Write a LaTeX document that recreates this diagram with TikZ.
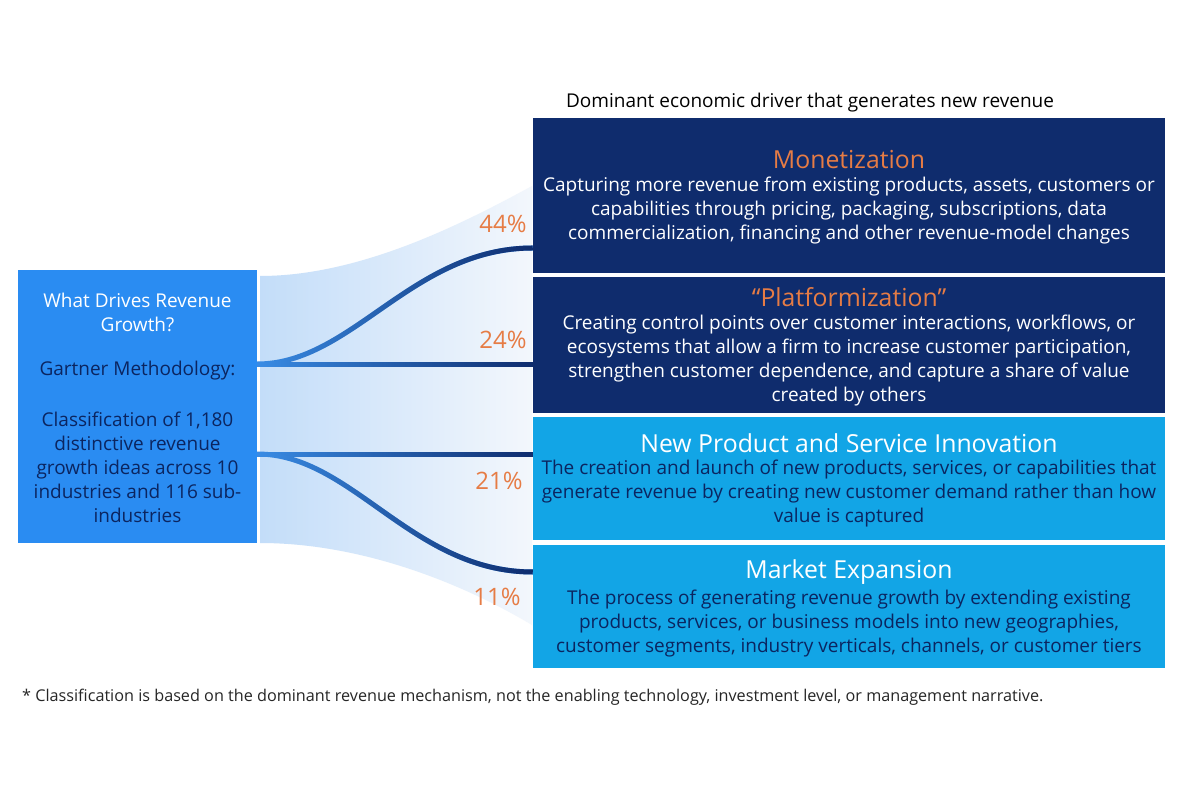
\documentclass[tikz,border=0pt]{standalone}
\usepackage{fontspec}
\setmainfont{Open Sans}
\usetikzlibrary{fadings}
\definecolor{navy}{HTML}{0F2C6D}
\definecolor{skyb}{HTML}{12A5E6}
\definecolor{srcb}{HTML}{2A8CF2}
\definecolor{ink}{HTML}{0B2560}
\definecolor{orng}{HTML}{E67C45}
\definecolor{fanL}{HTML}{C3DDF9}
\definecolor{fanR}{HTML}{F3F7FC}
\definecolor{connL}{HTML}{3A8DE6}
\tikzfading[name=fadein, left color=transparent!100, right color=transparent!0]
\tikzset{
  boxn/.style={rectangle, inner sep=0pt, minimum width=632pt},
  body/.style={align=center, inner sep=0pt, font=\fontsize{19}{24}\selectfont},
  ttl/.style={inner sep=0pt, font=\fontsize{24.8}{28}\selectfont},
  pct/.style={inner sep=0pt, text=orng, font=\fontsize{24}{28}\selectfont},
  connbase/.style={line width=5pt, connL},
  connover/.style={line width=5pt, navy, path fading=fadein},
}
\begin{document}
\begin{tikzpicture}[x=1pt,y=-1pt]
\useasboundingbox[fill=white] (0,0) rectangle (1200,800);

% fan
\shade[left color=fanL, right color=fanR]
  (260,276) .. controls (360,276) and (462,224) .. (532,186)
  -- (532,625) .. controls (460,582) and (360,543) .. (260,543) -- cycle;

% source box
\node[rectangle, fill=srcb, minimum width=239pt, minimum height=273pt, inner sep=0pt] (src) at (137.5,406.5) {};
\node[body, text=white] (srct) at (137.5,312) {What Drives Revenue\\Growth?};
\node[body, text=ink] (srcm) at (137.5,371) {Gartner Methodology:};
\node[body, text=ink] (srcc) at (137.5,467) {Classification of 1,180\\distinctive revenue\\growth ideas across 10\\industries and 116 sub-\\industries};

% header
\node[body, text=black] (hdr) at (810,103) {Dominant economic driver that generates new revenue};

% right boxes
\node[boxn, fill=navy, minimum height=155pt] (b1) at (849,195.5) {};
\node[boxn, fill=navy, minimum height=136pt] (b2) at (849,345) {};
\node[boxn, fill=skyb, minimum height=123pt] (b3) at (849,478.5) {};
\node[boxn, fill=skyb, minimum height=123pt] (b4) at (849,606.5) {};

\node[ttl, text=orng] (t1) at (849,160) {Monetization};
\node[body, text=white] (d1) at (849,211) {Capturing more revenue from existing products, assets, customers or\\capabilities through pricing, packaging, subscriptions, data\\commercialization, financing and other revenue-model changes};

\node[ttl, text=orng] (t2) at (849,297) {“Platformization”};
\node[body, text=white] (d2) at (849,361) {Creating control points over customer interactions, workflows, or\\ecosystems that allow a firm to increase customer participation,\\strengthen customer dependence, and capture a share of value\\created by others};

\node[ttl, text=white] (t3) at (849,443) {New Product and Service Innovation};
\node[body, text=ink] (d3) at (849,494) {The creation and launch of new products, services, or capabilities that\\generate revenue by creating new customer demand rather than how\\value is captured};

\node[ttl, text=white] (t4) at (849,572) {Market Expansion};
\node[body, text=ink] (d4) at (849,624) {The process of generating revenue growth by extending existing\\products, services, or business models into new geographies,\\customer segments, industry verticals, channels, or customer tiers};

% connector end points
\coordinate (s1) at (src.east |- 0,364);
\coordinate (s2) at (src.east |- 0,454);
\coordinate (e1) at (b1.west |- 0,248);
\coordinate (e2) at (b2.west |- 0,364);
\coordinate (e3) at (b3.west |- 0,454);
\coordinate (e4) at (b4.west |- 0,572);

\draw[connbase] (s1) .. controls (352,364) and (412,248) .. (e1);
\draw[connover] (s1) .. controls (352,364) and (412,248) .. (e1);
\draw[connbase] (s1) -- (e2);
\draw[connover] (s1) -- (e2) (s1) ++(0,-4) (e2) ++(0,4);
\draw[connbase] (s2) -- (e3);
\draw[connover] (s2) -- (e3) (s2) ++(0,-4) (e3) ++(0,4);
\draw[connbase] (s2) .. controls (352,454) and (412,572) .. (e4);
\draw[connover] (s2) .. controls (352,454) and (412,572) .. (e4);

% percentages
\node[pct] (p1) at (503,224) {44\%};
\node[pct] (p2) at (503,340) {24\%};
\node[pct] (p3) at (499,481) {21\%};
\node[pct] (p4) at (497,597) {11\%};

% footnote
\node[inner sep=0pt, anchor=west, text=black!85, font=\fontsize{16.2}{19}\selectfont] (fn) at (22,697) {* Classification is based on the dominant revenue mechanism, not the enabling technology, investment level, or management narrative.};
\end{tikzpicture}
\end{document}
